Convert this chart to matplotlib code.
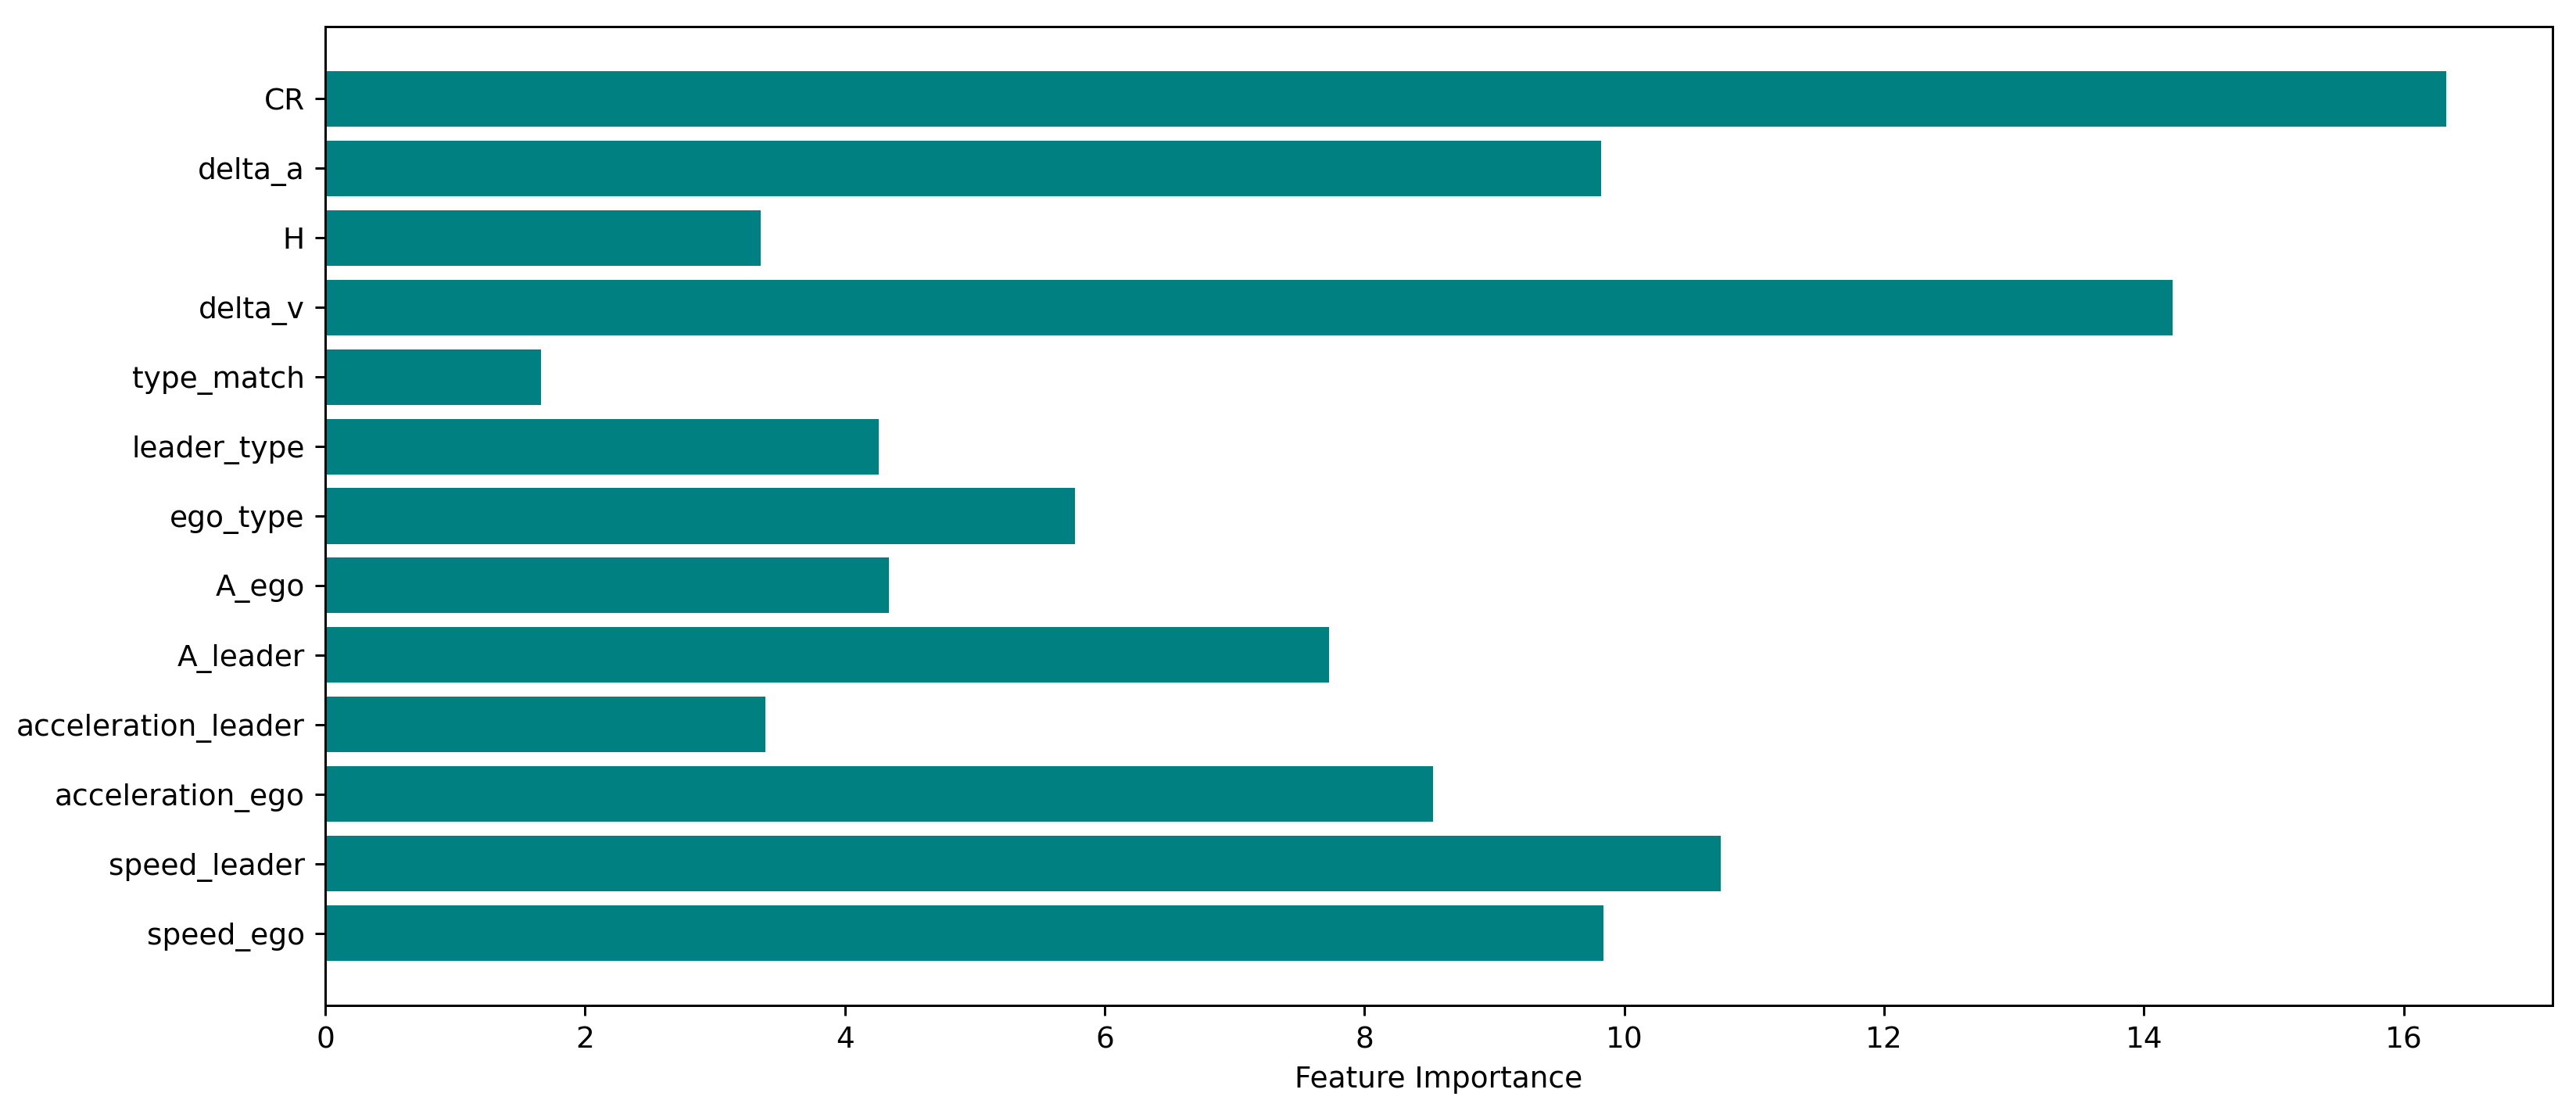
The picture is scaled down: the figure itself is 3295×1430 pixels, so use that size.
import numpy as np
import matplotlib
matplotlib.use('Agg')
import matplotlib.pyplot as plt

# feature importances, bottom to top as plotted
features = ['speed_ego', 'speed_leader', 'acceleration_ego', 'acceleration_leader',
            'A_leader', 'A_ego', 'ego_type', 'leader_type', 'type_match',
            'delta_v', 'H', 'delta_a', 'CR']
importances = [9.84, 10.74, 8.53, 3.39, 7.73, 4.34, 5.77, 4.26, 1.66,
               14.22, 3.35, 9.82, 16.33]

dpi = 270
fig, ax = plt.subplots(figsize=(3295 / dpi, 1430 / dpi), dpi=dpi)
fig.subplots_adjust(left=416 / 3295, right=3265 / 3295, top=1 - 34 / 1430, bottom=1 - 1286 / 1430)

ax.barh(features, importances, color='teal')
ax.set_xlabel('Feature Importance')

fig.savefig('out.png', dpi=dpi)
